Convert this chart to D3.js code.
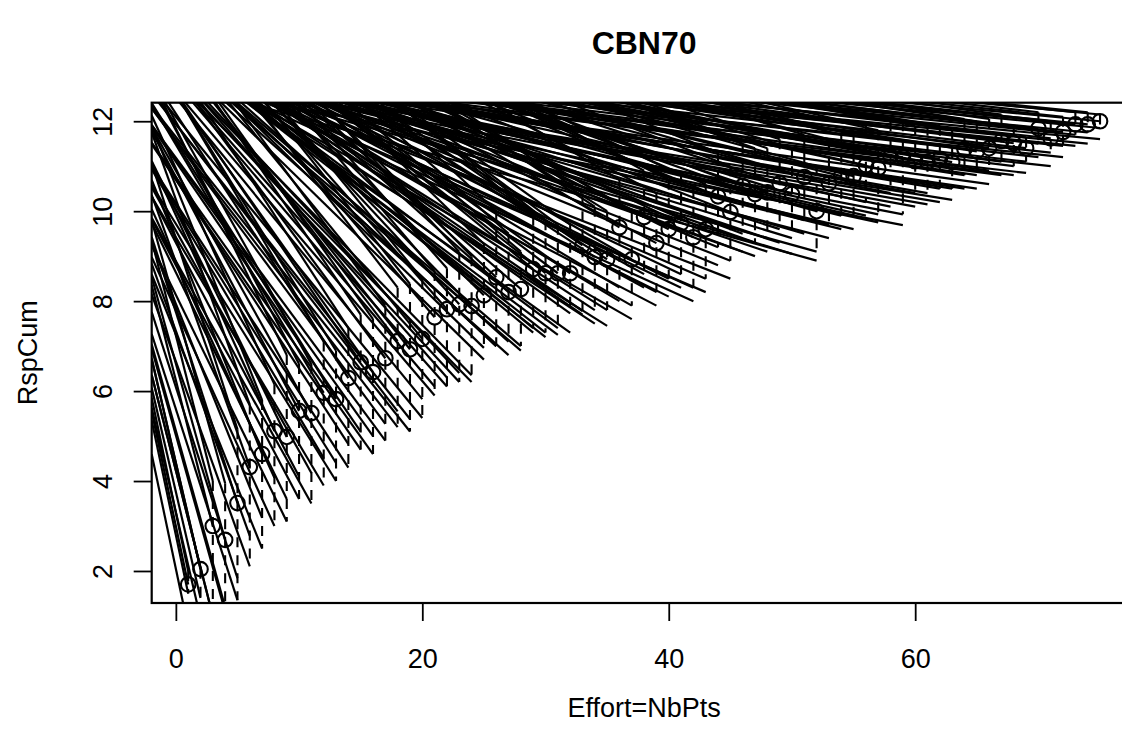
<!DOCTYPE html>
<html><head><meta charset="utf-8">
<script src="https://cdn.jsdelivr.net/npm/d3@7/dist/d3.min.js"></script>
<style>
body{margin:0;background:#fff}
svg{display:block}
text{font-family:"Liberation Sans",Arial,Helvetica,sans-serif;fill:#000}
</style>
</head><body>
<svg id="chart" width="1122" height="744"></svg>
<script>
// ---- data ----
const effort = [1,2,3,4,5,6,7,8,9,10,11,12,13,14,15,16,17,18,19,20,21,22,23,24,25,26,27,28,29,30,31,32,33,34,35,36,37,38,39,40,41,42,43,44,45,46,47,48,49,50,51,52,53,54,55,56,57,58,59,60,61,62,63,64,65,66,67,68,69,70,71,72,73,74,75];
const rspCum = [1.70,2.04,3.00,2.69,3.51,4.31,4.60,5.11,4.98,5.56,5.51,5.96,5.82,6.29,6.64,6.42,6.73,7.11,6.93,7.16,7.64,7.82,7.93,7.89,8.13,8.53,8.20,8.27,8.71,8.62,8.62,8.62,9.24,8.98,8.93,9.64,8.93,9.87,9.29,9.60,9.73,9.42,9.60,10.33,9.98,10.56,10.38,10.42,10.62,10.38,10.76,10.00,10.62,10.78,10.78,11.02,10.95,11.22,11.20,11.11,11.09,11.16,11.09,11.38,11.33,11.40,11.56,11.51,11.40,11.84,11.62,11.76,11.93,11.93,12.00];
const dashHi = [2.00,2.05,4.00,3.95,5.15,5.70,5.80,6.15,6.80,6.60,6.60,7.10,6.90,7.40,7.70,7.60,7.90,8.30,8.38,8.49,8.67,8.73,9.10,9.00,9.27,10.00,9.50,9.10,9.90,9.80,9.70,9.70,10.40,10.10,10.00,10.70,10.00,10.90,10.40,10.70,10.80,10.50,10.60,11.30,11.00,11.50,11.40,11.40,11.60,11.40,11.70,11.00,11.60,11.70,11.70,11.90,11.80,12.00,12.00,11.90,11.90,11.90,11.80,12.05,12.00,12.05,12.15,11.87,11.64,12.20,12.00,12.10,12.20,12.20,12.15];
const dashLo = [1.50,1.40,1.00,1.20,1.35,2.10,2.50,3.00,3.10,3.60,3.50,3.90,4.00,4.30,4.70,4.60,4.90,5.20,5.10,5.40,5.90,6.10,6.20,6.20,6.96,7.00,7.10,7.00,7.40,7.30,7.40,7.73,7.78,7.80,7.80,8.30,7.90,8.60,8.20,8.50,8.60,8.30,8.50,9.20,8.90,9.50,9.30,9.40,9.60,9.40,9.80,9.10,9.70,9.90,9.90,10.20,9.93,10.40,9.93,10.40,10.40,10.50,10.50,10.80,10.80,10.90,11.10,11.00,11.10,11.50,11.30,11.45,11.70,11.75,11.85];
const lineLow = [0.75,0.95,1.00,1.10,1.84,2.78,3.18,4.07,3.60,4.10,4.18,4.51,4.40,4.82,5.10,5.00,5.27,5.55,5.38,5.82,6.10,6.30,6.40,6.35,6.70,7.00,6.80,6.90,7.30,7.20,7.25,7.30,7.70,7.50,7.45,8.00,7.60,8.30,7.90,8.10,8.30,8.00,8.20,8.80,8.50,9.10,9.00,9.10,9.30,9.05,9.50,8.90,9.40,9.60,9.60,9.90,9.75,10.10,9.69,10.10,10.15,10.20,10.25,10.50,10.50,10.60,10.80,10.80,10.85,11.20,11.00,11.20,11.45,11.50,11.60];
const slope = [1.30,1.18,1.08,0.98,0.85,0.76,0.68,0.60,0.56,0.52,0.49,0.46,0.44,0.42,0.40,0.385,0.37,0.355,0.345,0.335,0.322,0.31,0.295,0.28,0.268,0.256,0.245,0.235,0.225,0.215,0.205,0.196,0.188,0.18,0.172,0.164,0.157,0.15,0.143,0.136,0.13,0.124,0.118,0.112,0.107,0.102,0.097,0.092,0.088,0.084,0.08,0.076,0.072,0.068,0.065,0.062,0.059,0.056,0.053,0.05,0.048,0.046,0.044,0.042,0.04,0.038,0.036,0.034,0.032,0.031,0.03,0.029,0.028,0.027,0.026];
const xTicks = [0,20,40,60];
const yTicks = [2,4,6,8,10,12];
const titleText = "CBN70";
const xLabel = "Effort=NbPts";
const yLabel = "RspCum";

// ---- layout ----
const box = {left:151.7, right:1136.5, top:102.7, bottom:603};
const pad4 = e => { const d = e[1]-e[0]; return [e[0]-0.04*d, e[1]+0.04*d]; };
const x = d3.scaleLinear().domain(pad4(d3.extent(effort))).range([box.left, box.right]);
const y = d3.scaleLinear().domain(pad4(d3.extent(rspCum))).range([box.bottom, box.top]);

const svg = d3.select("#chart");
svg.append("rect").attr("width",1122).attr("height",744).attr("fill","#fff");

svg.append("defs").append("clipPath").attr("id","plotclip")
  .append("rect").attr("x",box.left).attr("y",box.top)
  .attr("width",box.right-box.left).attr("height",box.bottom-box.top);

const g = svg.append("g").attr("clip-path","url(#plotclip)");

// solid lines
const x0 = x.domain()[0];
const segs = [];
effort.forEach((e,i) => {
  [dashHi[i], rspCum[i], dashLo[i], lineLow[i]].forEach(v => {
    segs.push({x1:x0, y1:v + slope[i]*(e - x0), x2:e, y2:v});
  });
});
g.selectAll("line.fit").data(segs).join("line").attr("class","fit")
  .attr("x1",d=>x(d.x1)).attr("y1",d=>y(d.y1))
  .attr("x2",d=>x(d.x2)).attr("y2",d=>y(d.y2))
  .attr("stroke","#000").attr("stroke-width",2.2);

// dashed vertical segments
g.selectAll("line.rng").data(effort).join("line").attr("class","rng")
  .attr("x1",d=>x(d)).attr("x2",d=>x(d))
  .attr("y1",(d,i)=>y(dashHi[i])).attr("y2",(d,i)=>y(dashLo[i]))
  .attr("stroke","#000").attr("stroke-width",2.1).attr("stroke-dasharray","10,8");

// points
g.selectAll("circle").data(effort).join("circle")
  .attr("cx",d=>x(d)).attr("cy",(d,i)=>y(rspCum[i])).attr("r",7.3)
  .attr("fill","none").attr("stroke","#000").attr("stroke-width",2.1);

// box
svg.append("rect").attr("x",box.left).attr("y",box.top)
  .attr("width",box.right-box.left).attr("height",box.bottom-box.top)
  .attr("fill","none").attr("stroke","#000").attr("stroke-width",2.2);

// x axis
const ax = svg.append("g").attr("transform",`translate(0,${box.bottom})`)
  .call(d3.axisBottom(x).tickValues(xTicks).tickSize(18).tickPadding(28).tickFormat(d3.format("d")));
ax.select(".domain").remove();
ax.selectAll("line").attr("stroke","#000").attr("stroke-width",1.8);
ax.selectAll("text").attr("font-size",27).attr("font-family","Liberation Sans, Arial, sans-serif").attr("fill","#000");

// y axis
const ay = svg.append("g").attr("transform",`translate(${box.left},0)`)
  .call(d3.axisLeft(y).tickValues(yTicks).tickSize(18).tickFormat(d3.format("d")));
ay.select(".domain").remove();
ay.selectAll("line").attr("stroke","#000").attr("stroke-width",1.8);
ay.selectAll("text").attr("font-size",27).attr("font-family","Liberation Sans, Arial, sans-serif").attr("fill","#000")
  .attr("x",null).attr("dy",null).attr("text-anchor","middle")
  .attr("transform",`translate(${112-box.left},0) rotate(-90)`);

// titles
svg.append("text").attr("x",(box.left+box.right)/2).attr("y",54)
  .attr("text-anchor","middle").attr("font-size",32).attr("font-weight","bold").text(titleText);
svg.append("text").attr("x",(box.left+box.right)/2).attr("y",717)
  .attr("text-anchor","middle").attr("font-size",27).text(xLabel);
svg.append("text").attr("transform",`translate(37,${(box.top+box.bottom)/2}) rotate(-90)`)
  .attr("text-anchor","middle").attr("font-size",27).text(yLabel);
</script>
</body></html>
